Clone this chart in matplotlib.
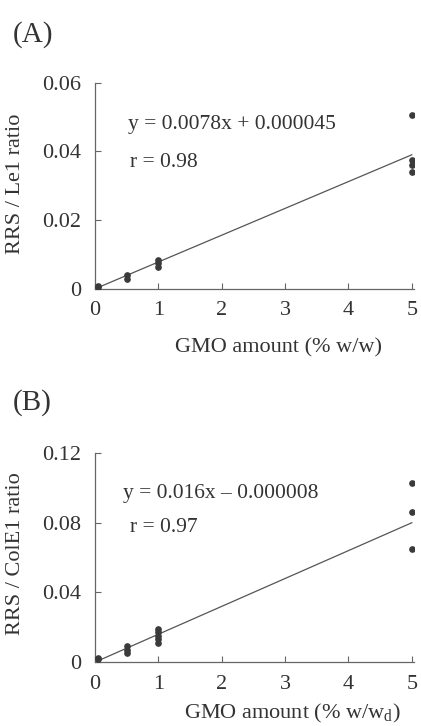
import numpy as np
import matplotlib
matplotlib.use("Agg")
import matplotlib.pyplot as plt

plt.rcParams["font.family"] = ["Liberation Serif", "DejaVu Serif"]
plt.rcParams["mathtext.fontset"] = "custom"
plt.rcParams["mathtext.rm"] = "Liberation Serif"

# panel A: RRS / Le1
a_x = [0.05, 0.05, 0.5, 0.5, 1, 1, 1, 5, 5, 5, 5]
a_y = [0.0005, 0.001, 0.003, 0.004, 0.0065, 0.0075, 0.0085, 0.0507, 0.0375, 0.036, 0.034]
a_slope, a_icpt = 0.0078, 0.000045

# panel B: RRS / ColE1
b_x = [0.05, 0.05, 0.5, 0.5, 0.5, 1, 1, 1, 1, 1, 5, 5, 5]
b_y = [0.0015, 0.0025, 0.005, 0.007, 0.009, 0.011, 0.013, 0.015, 0.017, 0.019, 0.103, 0.086, 0.065]
b_slope, b_icpt = 0.016, -0.000008

fig = plt.figure(figsize=(4.21, 7.26), dpi=100)
INK = "#333333"
FS = 16


def panel(rect, xs, ys, slope, icpt, ymax, yticks, ylabel, xlabel, eq, r,
          eqpos, rpos, xlab_xy, ylab_y):
    ax = fig.add_axes(rect)
    ax.plot(xs, ys, "o", ms=3.8, color="#3a3a3a", zorder=3)
    fx = np.array([0.05, 5.0])
    ax.plot(fx, slope * fx + icpt, color="#555555", lw=0.9)
    ax.set_xlim(0, 5.03)
    ax.set_ylim(0, ymax)
    ax.set_xticks([0, 1, 2, 3, 4, 5])
    ax.set_yticks(yticks)
    ax.set_yticklabels(["0"] + [f"{t:.2f}" for t in yticks[1:]])
    for s in ("top", "right"):
        ax.spines[s].set_visible(False)
    for s in ("left", "bottom"):
        ax.spines[s].set_color("#666666")
        ax.spines[s].set_linewidth(0.9)
    ax.tick_params(direction="in", length=4, width=0.8, color="#666666",
                   labelsize=FS, labelcolor=INK)
    ax.tick_params(axis="x", pad=9)
    ax.tick_params(axis="y", pad=10)
    ax.set_ylabel(ylabel, fontsize=FS, color=INK, va="center")
    ax.yaxis.set_label_coords(-0.251, ylab_y)
    ax.set_xlabel(xlabel, fontsize=FS, color=INK, va="center")
    ax.xaxis.set_label_coords(*xlab_xy)
    ax.text(eqpos[0], eqpos[1], eq, fontsize=15.5, color=INK, va="center")
    ax.text(rpos[0], rpos[1], r, fontsize=15.5, color=INK, va="center")
    return ax


panel([0.2257, 0.602, 0.757, 0.284], a_x, a_y, a_slope, a_icpt, 0.06,
      [0, 0.02, 0.04, 0.06], "RRS / Le1 ratio", "GMO amount (% w/w)",
      "y = 0.0078x + 0.000045", "r = 0.98", (0.52, 0.048), (0.55, 0.0367),
      (0.575, -0.286), 0.51)

panel([0.2257, 0.088, 0.757, 0.288], b_x, b_y, b_slope, b_icpt, 0.12,
      [0, 0.04, 0.08, 0.12], "RRS / ColE1 ratio", "GMO amount (% w/w$_{\\mathrm{d}}$)",
      "y = 0.016x \u2013 0.000008", "r = 0.97", (0.44, 0.097), (0.55, 0.077),
      (0.618, -0.244), 0.52)

fig.text(0.03, 0.953, "(A)", fontsize=21, color=INK, va="center")
fig.text(0.03, 0.446, "(B)", fontsize=21, color=INK, va="center")

fig.savefig("out.png", dpi=100)
